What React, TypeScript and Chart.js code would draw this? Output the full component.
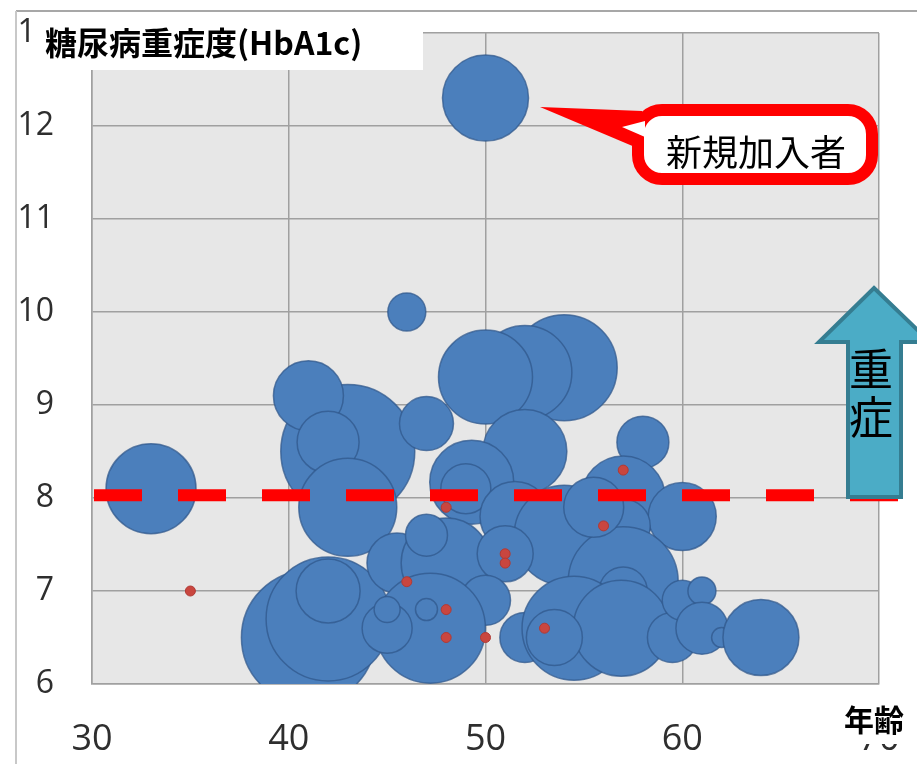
import React, { useEffect, useRef } from "react";
import { Chart, registerables } from "chart.js";

Chart.register(...registerables);

// ---- data ----
const xTickValues = [30, 40, 50, 60, 70];
const yTickValues = [6, 7, 8, 9, 10, 11, 12, 13];

const blueAge = [50, 46, 33, 43, 41, 42, 43, 47, 41, 42, 42, 54, 52, 50, 52, 49.3, 49, 51.5, 58, 57, 60, 57, 54, 57, 57, 45.5, 48, 47, 51, 50, 47.2, 45, 45, 47, 52, 54.5, 56.9, 59.5, 60, 61, 61, 62, 64, 53.5, 55.5];
const blueHbA1c = [12.3, 10.0, 8.1, 8.5, 9.1, 8.6, 7.9, 8.8, 6.5, 6.7, 7.0, 9.4, 9.35, 9.3, 8.5, 8.17, 8.1, 7.8, 8.6, 8.0, 7.8, 7.7, 7.6, 7.1, 7.0, 7.3, 7.3, 7.6, 7.4, 6.9, 6.6, 6.6, 6.8, 6.8, 6.5, 6.6, 6.6, 6.5, 6.9, 7.0, 6.6, 6.5, 6.5, 6.5, 7.9];
const blueSize = [43, 19, 45, 67, 35, 31, 49, 27, 67, 62, 32, 53, 47, 47, 42, 42, 25, 35, 26, 42, 34, 27, 50, 55, 24, 30, 45, 21, 28, 25, 55, 25, 13, 11, 25, 52, 48, 25, 20, 14, 26, 10, 38, 28, 30];

const redAge = [35, 46, 48, 48, 48, 50, 51, 51, 53, 56, 57];
const redHbA1c = [7.0, 7.1, 7.9, 6.8, 6.5, 6.5, 7.4, 7.3, 6.6, 7.7, 8.3];
const redSize = [5, 5, 5, 5, 5, 5, 5, 5, 5, 5, 5];

const thresholdValue = 8.03;
const yAxisTitle = "糖尿病重症度(HbA1c)";
const xAxisTitle = "年齢";
const calloutText = "新規加入者";
const arrowText = ["重", "症"];

const W = 917;
const H = 764;

function roundRect(ctx: CanvasRenderingContext2D, x: number, y: number, w: number, h: number, r: number) {
  ctx.beginPath();
  ctx.moveTo(x + r, y);
  ctx.lineTo(x + w - r, y);
  ctx.arcTo(x + w, y, x + w, y + r, r);
  ctx.lineTo(x + w, y + h - r);
  ctx.arcTo(x + w, y + h, x + w - r, y + h, r);
  ctx.lineTo(x + r, y + h);
  ctx.arcTo(x, y + h, x, y + h - r, r);
  ctx.lineTo(x, y + r);
  ctx.arcTo(x, y, x + r, y, r);
  ctx.closePath();
}

const decorPlugin = {
  id: "decor",
  beforeDraw(chart: any) {
    const { ctx, chartArea } = chart;
    ctx.save();
    ctx.fillStyle = "#ffffff";
    ctx.fillRect(0, 0, W, H);
    // outer frame
    ctx.strokeStyle = "#8a8a8a";
    ctx.lineWidth = 1.5;
    ctx.beginPath();
    ctx.moveTo(16, 11);
    ctx.lineTo(W, 11);
    ctx.stroke();
    ctx.strokeStyle = "#c8c8c8";
    ctx.lineWidth = 2;
    ctx.beginPath();
    ctx.moveTo(16, 11);
    ctx.lineTo(16, H);
    ctx.stroke();
    // plot background
    ctx.fillStyle = "#e7e7e7";
    ctx.fillRect(chartArea.left, chartArea.top, chartArea.right - chartArea.left, chartArea.bottom - chartArea.top);
    ctx.restore();
  },
  afterDatasetsDraw(chart: any) {
    const { ctx, chartArea, scales } = chart;
    const y = scales.y.getPixelForValue(thresholdValue);
    ctx.save();
    ctx.strokeStyle = "#ff0000";
    ctx.lineWidth = 12;
    ctx.setLineDash([48, 36]);
    ctx.beginPath();
    ctx.moveTo(chartArea.left + 2, y);
    ctx.lineTo(chartArea.left + 2 + 84 * 9 + 48, y);
    ctx.stroke();
    ctx.restore();
  },
  afterDraw(chart: any) {
    const { ctx } = chart;
    ctx.save();
    // callout pointer
    ctx.fillStyle = "#ff0000";
    ctx.beginPath();
    ctx.moveTo(540, 107);
    ctx.lineTo(642, 111);
    ctx.lineTo(642, 150);
    ctx.closePath();
    ctx.fill();
    // callout box
    roundRect(ctx, 638, 110, 234, 69, 24);
    ctx.fillStyle = "#ffffff";
    ctx.fill();
    ctx.strokeStyle = "#ff0000";
    ctx.lineWidth = 12;
    ctx.stroke();
    ctx.fillStyle = "#ffffff";
    ctx.beginPath();
    ctx.moveTo(622, 127);
    ctx.lineTo(645, 121);
    ctx.lineTo(645, 137);
    ctx.closePath();
    ctx.fill();
    ctx.fillStyle = "#000000";
    ctx.font = '36px "Noto Sans CJK JP"';
    ctx.textAlign = "center";
    ctx.textBaseline = "middle";
    ctx.fillText(calloutText, 756, 152);

    // arrow
    ctx.beginPath();
    ctx.moveTo(874, 288);
    ctx.lineTo(930, 342);
    ctx.lineTo(901, 342);
    ctx.lineTo(901, 497);
    ctx.lineTo(848, 497);
    ctx.lineTo(848, 342);
    ctx.lineTo(819, 342);
    ctx.closePath();
    ctx.fillStyle = "#4bacc6";
    ctx.fill();
    ctx.strokeStyle = "#357d91";
    ctx.lineWidth = 4;
    ctx.lineJoin = "miter";
    ctx.stroke();
    ctx.fillStyle = "#000000";
    ctx.font = '44px "Noto Sans CJK JP"';
    ctx.fillText(arrowText[0], 871, 369);
    ctx.fillText(arrowText[1], 871, 417);

    // title box
    ctx.fillStyle = "#ffffff";
    ctx.fillRect(30, 12, 393, 58);
    ctx.fillStyle = "#000000";
    ctx.font = 'bold 32px "Noto Sans CJK JP"';
    ctx.textAlign = "left";
    ctx.fillText(yAxisTitle, 45, 43);

    // x axis title
    ctx.fillStyle = "#ffffff";
    ctx.fillRect(838, 698, 72, 46);
    ctx.fillStyle = "#000000";
    ctx.font = 'bold 30px "Noto Sans CJK JP"';
    ctx.textAlign = "center";
    ctx.fillText(xAxisTitle, 874, 720);
    ctx.restore();
  },
};

export default function App() {
  const ref = useRef<HTMLCanvasElement | null>(null);
  useEffect(() => {
    document.body.style.margin = "0";
    const canvas = ref.current;
    if (!canvas) return;
    const blueData = blueAge.map((x, i) => ({ x, y: blueHbA1c[i], r: blueSize[i] }));
    const redData = redAge.map((x, i) => ({ x, y: redHbA1c[i], r: redSize[i] }));
    const gridColor = "#a0a0a0";
    const chart = new Chart(canvas, {
      type: "bubble",
      data: {
        datasets: [
          {
            label: "新規加入者",
            data: redData,
            backgroundColor: "#c9463f",
            borderColor: "#b03a35",
            borderWidth: 1,
          },
          {
            label: "加入者",
            data: blueData,
            backgroundColor: "#4b7fbc",
            borderColor: "rgba(48,88,140,0.75)",
            borderWidth: 1.5,
          },
        ],
      },
      options: {
        responsive: false,
        animation: false,
        devicePixelRatio: 1,
        layout: { autoPadding: false, padding: { left: 0, right: 38, top: 33, bottom: 0 } },
        plugins: {
          legend: { display: false },
          tooltip: { enabled: false },
          title: { display: false },
        },
        scales: {
          x: {
            type: "linear",
            min: 30,
            max: 70,
            afterBuildTicks: (scale: any) => {
              scale.ticks = xTickValues.map((v) => ({ value: v }));
            },
            afterFit: (scale: any) => {
              scale.height = 80;
              scale.paddingLeft = 0;
              scale.paddingRight = 0;
            },
            grid: { color: gridColor, lineWidth: 1.5, drawTicks: false },
            border: { color: gridColor, width: 1.5 },
            ticks: {
              padding: 34,
              color: "#2e2e2e",
              font: { family: "Open Sans", size: 36 },
              maxRotation: 0,
            },
          },
          y: {
            type: "linear",
            min: 6,
            max: 13,
            afterBuildTicks: (scale: any) => {
              scale.ticks = yTickValues.map((v) => ({ value: v }));
            },
            afterFit: (scale: any) => {
              scale.width = 92;
              scale.paddingTop = 0;
              scale.paddingBottom = 0;
            },
            grid: { color: gridColor, lineWidth: 1.5, drawTicks: false },
            border: { color: gridColor, width: 1.5 },
            ticks: {
              padding: 38,
              color: "#2e2e2e",
              font: { family: "Open Sans", size: 32 },
            },
          },
        },
      },
      plugins: [decorPlugin],
    } as any);
    return () => chart.destroy();
  }, []);
  return <canvas ref={ref} width={W} height={H} style={{ display: "block", width: W, height: H }} />;
}
